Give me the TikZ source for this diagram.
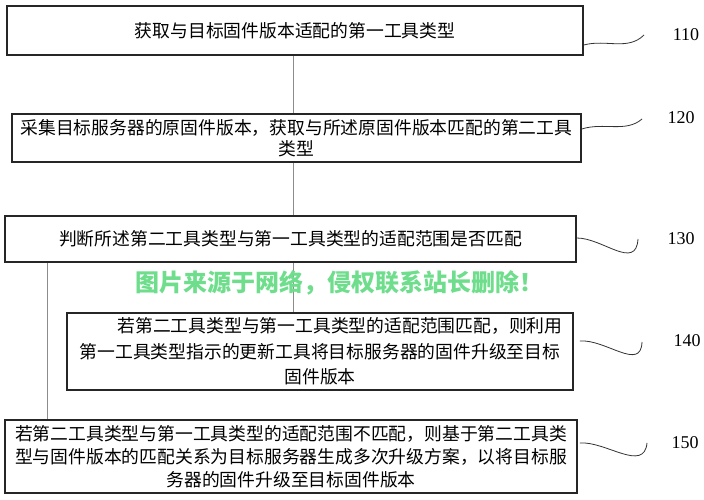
\documentclass[tikz,border=0pt]{standalone}
\usepackage{fontspec}
\setmainfont{Liberation Serif}
\newfontfamily\cjk{Noto Sans CJK SC}
\usetikzlibrary{calc}
\definecolor{wmgreen}{RGB}{110,222,140}
\begin{document}
\begin{tikzpicture}[x=1pt,y=1pt,
  stepbox/.style={draw=black!85,line width=1.6pt,inner sep=0pt,anchor=center,align=center,font=\cjk\fontsize{17.8}{21}\selectfont},
  link/.style={draw=black!45,line width=0.7pt},
  leader/.style={draw=black!80,line width=0.8pt},
  numlabel/.style={font=\fontsize{18}{20}\selectfont}]
\useasboundingbox (0,0) rectangle (704,500);
\fill[white] (0,0) rectangle (704,500);

\node[stepbox,minimum width=576,minimum height=49] (b1) at (295,469.5) {获取与目标固件版本适配的第一工具类型};
\node[stepbox,minimum width=569,minimum height=48] (b2) at (296.5,362) {采集目标服务器的原固件版本，获取与所述原固件版本匹配的第二工具\\类型};
\node[stepbox,minimum width=571,minimum height=46] (b3) at (290.5,261) {判断所述第二工具类型与第一工具类型的适配范围是否匹配};
\node[stepbox,minimum width=506,minimum height=77,font=\cjk\fontsize{17.8}{25.5}\selectfont] (b4) at (320,148.5) {\hspace*{40pt}若第二工具类型与第一工具类型的适配范围匹配，则利用\\第一工具类型指示的更新工具将目标服务器的固件升级至目标\\固件版本};
\node[stepbox,minimum width=572,minimum height=73,font=\cjk\fontsize{17.8}{23}\selectfont] (b5) at (291,43.5) {若第二工具类型与第一工具类型的适配范围不匹配，则基于第二工具类\\型与固件版本的匹配关系为目标服务器生成多次升级方案，以将目标服\\务器的固件升级至目标固件版本};

% connectors
\draw[link] (b1.south -| 293,0) -- (b2.north -| 293,0);
\draw[link] (b2.south -| 293,0) -- (b3.north -| 293,0);
\draw[link] (b3.south -| 293,0) -- (b4.north -| 293,0);
\draw[link] (b3.south -| 47,0) -- (b5.north -| 47,0);

% watermark
\node[font=\cjk\bfseries\fontsize{24}{26}\selectfont,text=wmgreen] (wm) at (339,217) {图片来源于网络，侵权联系站长删除！};

% leaders and labels
\coordinate (e1) at (644,465);
\coordinate (e2) at (642,381);
\coordinate (e3) at (638,261);
\coordinate (e4) at (642,158);
\coordinate (e5) at (647,57);
\draw[leader] ([yshift=-14.5pt]b1.east) .. controls +(22,6) and +(-16,-16) .. (e1);
\draw[leader] ([yshift=9pt]b2.east) .. controls +(22,7) and +(-16,-14) .. (e2);
\draw[leader] ([yshift=1pt]b3.east) .. controls +(26,0) and +(-2,-32) .. (e3);
\draw[leader] ([xshift=6pt,yshift=10.5pt]b4.east) .. controls +(26,2) and +(-1,-30) .. (e4);
\draw[leader] ([xshift=2pt,yshift=13.5pt]b5.east) .. controls +(26,2) and +(-3,-30) .. (e5);

\node[numlabel] (n1) at (686,465) {110};
\node[numlabel] (n2) at (681,382) {120};
\node[numlabel] (n3) at (681,261) {130};
\node[numlabel] (n4) at (687,159) {140};
\node[numlabel] (n5) at (685,57) {150};
\end{tikzpicture}
\end{document}
